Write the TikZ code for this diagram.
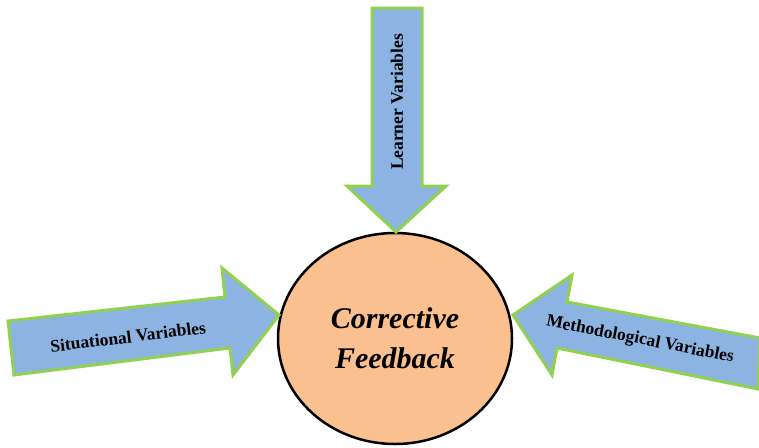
\documentclass[tikz,border=0pt]{standalone}
\usepackage{fontspec}
\setmainfont{Liberation Serif}
\usetikzlibrary{shapes.geometric}
\definecolor{arrowblue}{HTML}{8DB3E2}
\definecolor{arrowgreen}{HTML}{92D050}
\definecolor{cforange}{HTML}{FAC08F}
\begin{document}
\begin{tikzpicture}[x=1pt,y=-1pt,
  bigarrow/.style={fill=arrowblue,draw=arrowgreen,line width=3pt,line join=miter},
  lab/.style={font=\fontsize{17.5}{20}\selectfont\bfseries,inner sep=0pt},
  centre/.style={ellipse,draw=black,line width=2.5pt,fill=cforange,minimum width=234pt,minimum height=211pt,inner sep=0pt,align=center,font=\fontsize{30}{42}\selectfont\bfseries\itshape}]
\useasboundingbox (0,0) rectangle (759,447);
\node[centre] (cf) at (395,338.5) {Corrective\\[-2pt]Feedback};
% top arrow
\path[bigarrow] (372,8) -- (422,8) -- (422,186) -- (446,186) -- (396,232) -- (347,186) -- (372,186) -- cycle;
% left arrow
\path[bigarrow] (8,321) -- (225,297) -- (222,268) -- (279,315) -- (233,375) -- (230,348) -- (14,375) -- cycle;
% right arrow
\path[bigarrow] (513,315) -- (572,275) -- (567,302) -- (760,338) -- (758,389) -- (557,348) -- (552,375) -- cycle;
\node[lab,rotate=90] (lv) at (397,102) {Learner Variables};
\node[lab,rotate=7] (sv) at (128,337) {Situational Variables};
\node[lab,rotate=-11] (mv) at (640,340) {Methodological Variables};
\end{tikzpicture}
\end{document}
